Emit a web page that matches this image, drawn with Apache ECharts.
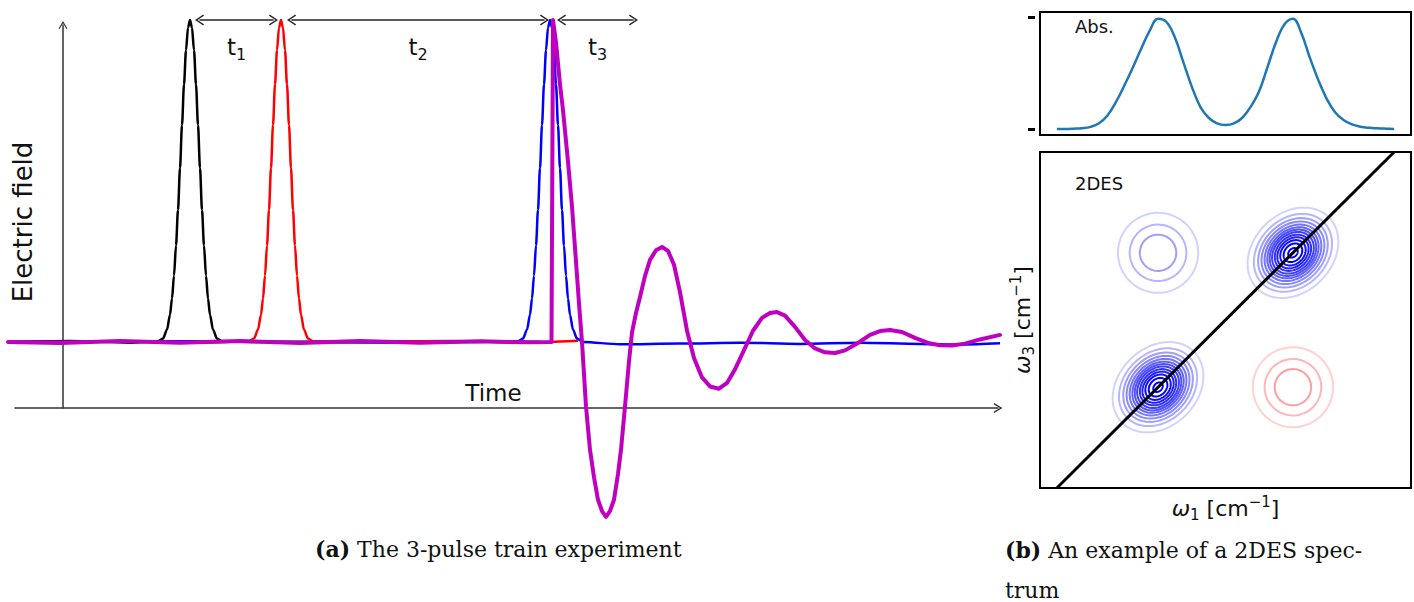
<!DOCTYPE html>
<html>
<head>
<meta charset="utf-8">
<script src="https://cdn.jsdelivr.net/npm/echarts@6/dist/echarts.min.js"></script>
<style>html,body{margin:0;padding:0;background:#fff}#c{width:1414px;height:602px}</style>
</head>
<body>
<div id="c"></div>
<script>
// ---------- (a) pulse train: [time, electric field] ----------
const pulseBlack = [[8,0],[70,0.003],[130,-0.002],[158,0.002],[163,0.011],[167,0.038],[170,0.085],[172,0.135],[174,0.206],[176,0.30],[178,0.41],[180,0.54],[182,0.674],[184,0.80],[186,0.906],[188,0.976],[190,1.0],[192,0.976],[194,0.906],[196,0.80],[198,0.674],[200,0.54],[202,0.41],[204,0.30],[206,0.206],[208,0.135],[210,0.085],[213,0.038],[217,0.011],[222,0.002],[260,0],[400,0.002],[540,0]];
const pulseRed = [[8,0],[100,0.002],[200,-0.002],[249,0.002],[254,0.011],[258,0.038],[261,0.085],[263,0.135],[265,0.206],[267,0.30],[269,0.41],[271,0.54],[273,0.674],[275,0.80],[277,0.906],[279,0.976],[281,1.0],[283,0.976],[285,0.906],[287,0.80],[289,0.674],[291,0.54],[293,0.41],[295,0.30],[297,0.206],[299,0.135],[301,0.085],[304,0.038],[308,0.011],[313,0.002],[350,0],[450,0.003],[520,-0.002],[578,0.004]];
const pulseBlue = [[8,0],[200,0.002],[400,-0.002],[518,0.002],[523,0.011],[527,0.038],[530,0.085],[532,0.135],[534,0.206],[536,0.30],[538,0.41],[540,0.54],[542,0.674],[544,0.80],[546,0.906],[548,0.976],[550,1.0],[552,0.976],[554,0.906],[556,0.80],[558,0.674],[560,0.54],[562,0.41],[564,0.30],[566,0.206],[568,0.135],[570,0.085],[573,0.038],[577,0.011],[583,0.0],[620,-0.007],[680,-0.005],[740,-0.002],[800,-0.006],[860,-0.002],[920,-0.006],[960,-0.008],[1000,-0.004]];
const signalField = [[8,0],[60,-0.003],[120,0.003],[180,-0.002],[240,0.003],[300,-0.003],[360,0.003],[420,-0.002],[480,0.002],[530,-0.001],[551.5,0],[553,1.0],[556,0.93],[560,0.8],[563,0.72],[568,0.56],[572,0.42],[576,0.25],[579,0.12],[582,0.0],[586,-0.2],[590,-0.335],[594,-0.42],[598,-0.49],[602,-0.525],[606,-0.543],[610,-0.525],[614,-0.49],[618,-0.41],[621,-0.335],[625,-0.2],[629,-0.06],[632,0.03],[636,0.09],[640,0.14],[645,0.205],[650,0.255],[656,0.285],[662,0.295],[668,0.283],[674,0.24],[680,0.155],[687,0.035],[694,-0.05],[702,-0.11],[710,-0.138],[719,-0.145],[727,-0.127],[735,-0.085],[744,-0.025],[753,0.035],[762,0.075],[770,0.09],[777,0.093],[785,0.082],[795,0.047],[805,0.006],[815,-0.02],[825,-0.032],[835,-0.034],[845,-0.026],[858,-0.003],[870,0.022],[880,0.034],[890,0.037],[902,0.031],[915,0.013],[928,-0.003],[940,-0.01],[952,-0.011],[965,-0.005],[980,0.008],[1000,0.022]];
// delay arrows between pulse peaks: [from, to, subscript]
const delayArrows = [[199.5,273.5,'1'],[291.5,544.5,'2'],[561.5,633.5,'3']];

// ---------- (b) absorption spectrum ----------
const absOmega = [0,0.25,0.5,0.75,1,1.25,1.5,1.75,2,2.25,2.5,2.75,3,3.25,3.5,3.75,4,4.25,4.5,4.75,5,5.25,5.5,5.75,6,6.25,6.5,6.75,7,7.25,7.5,7.75,8,8.25,8.5,8.75,9,9.25,9.5,9.75,10];
const absValues = [0,0,0.002,0.006,0.018,0.05,0.12,0.24,0.39,0.55,0.72,0.88,0.99,0.96,0.82,0.6,0.38,0.2,0.1,0.05,0.035,0.05,0.1,0.2,0.34,0.56,0.78,0.94,0.99,0.86,0.64,0.44,0.27,0.15,0.08,0.04,0.02,0.01,0.005,0.002,0];
const absTicks = [0, 1];

// ---------- (b) 2DES contours ----------
const diagPeaks = [[3,3],[7,7]];
const diagRingMajor = [1.50,1.29,1.15,1.04,0.94,0.85,0.77,0.69,0.60,0.52,0.42,0.31,0.16];
const diagRingMinor = [1.17,1.01,0.90,0.81,0.73,0.66,0.60,0.54,0.47,0.40,0.33,0.24,0.12];
const diagLevels = [-0.075,-0.15,-0.225,-0.3,-0.375,-0.45,-0.525,-0.6,-0.675,-0.75,-0.825,-0.9,-0.975];
const crossPeaks = [[3,7],[7,3]];
const crossSign = [-1, 1];
const crossRingRadius = [1.19,0.84,0.54];
const crossLevels = [0.075,0.15,0.225];
const diagonal = [[0,0],[10,10]];

// contour items [w1, w3, major, minor, level]
const contourItems = [];
diagPeaks.forEach(p => diagRingMajor.forEach((a, i) => contourItems.push([p[0], p[1], a, diagRingMinor[i], diagLevels[i]])));
crossPeaks.forEach((p, j) => crossRingRadius.forEach((r, i) => contourItems.push([p[0], p[1], r, r, crossSign[j]*crossLevels[i]])));

function ringColor(l) {
  const f = Math.pow(Math.min(1, Math.abs(l) / 0.9), 0.7);
  const w = Math.round(255 * (1 - f));
  return l < 0 ? 'rgb(' + w + ',' + w + ',255)' : 'rgb(255,' + w + ',' + w + ')';
}

const chevron = 'path://M0,10 L6,0 L12,10 L10.6,10.8 L6,3 L1.4,10.8 Z';
const handFont = 'DejaVu Sans';
const hidden = {axisLine:{show:false, onZero:false}, axisTick:{show:false}, axisLabel:{show:false}, splitLine:{show:false}};
const omegaRich = {
  w:{fontFamily:'DejaVu Sans', fontSize:22, fontStyle:'italic', color:'#111', lineHeight:28},
  n:{fontFamily:'DejaVu Sans', fontSize:22, color:'#111', lineHeight:28},
  s:{fontFamily:'DejaVu Sans', fontSize:15, color:'#111', lineHeight:28, verticalAlign:'bottom'},
  p:{fontFamily:'DejaVu Sans', fontSize:15, color:'#111', lineHeight:28, verticalAlign:'top'}
};
const gridBase = {outerBoundsMode:'none', containLabel:false};

const chart = echarts.init(document.getElementById('c'), null, {renderer:'svg'});
chart.setOption({
  animation: false,
  backgroundColor: '#fff',
  title: [
    {text:'{b|(a)} The 3-pulse train experiment', left:315, top:538, padding:0,
     textStyle:{fontFamily:'DejaVu Serif', fontSize:22, fontWeight:'normal', color:'#111',
       rich:{b:{fontFamily:'DejaVu Serif', fontSize:22, fontWeight:'bold', color:'#111'}}}},
    {text:'{b|(b)} An example of a 2DES spec-\ntrum', left:1005, top:530, padding:0,
     textStyle:{fontFamily:'DejaVu Serif', fontSize:22, fontWeight:'normal', color:'#111', lineHeight:40,
       rich:{b:{fontFamily:'DejaVu Serif', fontSize:22, fontWeight:'bold', color:'#111', lineHeight:40}}}},
    {text:'Abs.', left:1075, top:17, padding:0, textStyle:{fontFamily:handFont, fontSize:18, fontWeight:'normal', color:'#111'}},
    {text:'2DES', left:1075, top:174, padding:0, textStyle:{fontFamily:handFont, fontSize:18, fontWeight:'normal', color:'#111'}}
  ],
  grid: [
    Object.assign({left:15, top:25, width:983, height:383}, gridBase),
    Object.assign({left:0, top:20, width:1000, height:515.2}, gridBase),
    Object.assign({left:1040, top:12, width:371, height:123, show:true, borderColor:'#000', borderWidth:2, backgroundColor:'transparent'}, gridBase),
    Object.assign({left:1040, top:152, width:371, height:336, show:true, borderColor:'#000', borderWidth:2, backgroundColor:'transparent'}, gridBase)
  ],
  xAxis: [
    {gridIndex:0, type:'value', min:-48, max:935,
     axisLine:{show:true, onZero:true, symbol:['none', chevron], symbolSize:[12,9], lineStyle:{color:'#333', width:1.5}},
     axisTick:{show:false}, axisLabel:{show:false}, splitLine:{show:false},
     name:'Time', nameLocation:'middle', nameGap:-27,
     nameTextStyle:{fontFamily:handFont, fontSize:23, color:'#111', padding:[0,26,0,0]}},
    Object.assign({gridIndex:1, type:'value', min:0, max:1000}, hidden),
    Object.assign({gridIndex:2, type:'value', min:-0.5, max:10.5}, hidden),
    Object.assign({gridIndex:3, type:'value', min:-0.5, max:10.5,
     name:'{w|ω}{s|1}{n| [cm}{p|−1}{n|]}', nameLocation:'middle', nameGap:6,
     nameTextStyle:{fontFamily:'DejaVu Sans', fontSize:22, color:'#111', rich:omegaRich}}, hidden)
  ],
  yAxis: [
    {gridIndex:0, type:'value', min:0, max:1,
     axisLine:{show:true, onZero:true, symbol:['none', chevron], symbolSize:[10,8], lineStyle:{color:'#333', width:1.5}},
     axisTick:{show:false}, axisLabel:{show:false}, splitLine:{show:false},
     name:'Electric field', nameLocation:'middle', nameGap:-21, nameRotate:90,
     nameTextStyle:{fontFamily:handFont, fontSize:26, color:'#111', padding:[0,11,0,0]}},
    Object.assign({gridIndex:1, type:'value', min:-0.6, max:1}, hidden),
    {gridIndex:2, type:'value', min:-0.055, max:1.05, offset:5, position:'left',
     axisLine:{show:false, onZero:false}, axisLabel:{show:false}, splitLine:{show:false},
     axisTick:{show:true, customValues:absTicks, length:7, lineStyle:{color:'#000', width:3}}},
    Object.assign({gridIndex:3, type:'value', min:0, max:10,
     name:'{w|ω}{s|3}{n| [cm}{p|−1}{n|]}', nameLocation:'middle', nameGap:4, nameRotate:90,
     nameTextStyle:{fontFamily:'DejaVu Sans', fontSize:22, color:'#111', rich:omegaRich}}, hidden)
  ],
  series: [
    {type:'line', xAxisIndex:1, yAxisIndex:1, data:pulseBlack, showSymbol:false, symbol:'none', smooth:0.3, smoothMonotone:'x', clip:false,
     lineStyle:{color:'#000', width:2.5}},
    {type:'line', xAxisIndex:1, yAxisIndex:1, data:pulseRed, showSymbol:false, symbol:'none', smooth:0.3, smoothMonotone:'x', clip:false,
     lineStyle:{color:'#ff0000', width:2.5}},
    {type:'line', xAxisIndex:1, yAxisIndex:1, data:pulseBlue, showSymbol:false, symbol:'none', smooth:0.3, smoothMonotone:'x', clip:false,
     lineStyle:{color:'#0000ff', width:2.5}},
    {type:'line', xAxisIndex:1, yAxisIndex:1, data:signalField, showSymbol:false, symbol:'none', smooth:false, clip:false,
     lineStyle:{color:'#bf00bf', width:4, join:'round', cap:'round'},
     markLine:{silent:true, symbol:[chevron, chevron], symbolSize:[11,9],
       lineStyle:{color:'#222', width:1.6, type:'solid'},
       label:{show:true, position:'insideMiddleBottom', distance:12, color:'#111',
         formatter: p => '{t|t}{s|' + p.name + '}',
         rich:{t:{fontFamily:handFont, fontSize:23, color:'#111', lineHeight:30},
               s:{fontFamily:handFont, fontSize:16, color:'#111', lineHeight:30, verticalAlign:'bottom'}}},
       data: delayArrows.map(a => [{coord:[a[0],1.0], name:a[2]}, {coord:[a[1],1.0]}])}},
    {type:'line', xAxisIndex:2, yAxisIndex:2, data:absOmega.map((w,i)=>[w, absValues[i]]), showSymbol:false, symbol:'none', smooth:0.4,
     lineStyle:{color:'#1f77b4', width:2.5}},
    {type:'custom', xAxisIndex:3, yAxisIndex:3, data:contourItems, encode:{x:0, y:1},
     renderItem: function (params, api) {
       const a = api.value(2), b = api.value(3), lvl = api.value(4);
       const c = api.coord([api.value(0), api.value(1)]);
       const s = api.size([1, 1]);
       const pts = [];
       for (let i = 0; i < 90; i++) {
         const t = i / 90 * 2 * Math.PI;
         const u = a * Math.cos(t), v = b * Math.sin(t);
         const dx = (u - v) * Math.SQRT1_2, dy = (u + v) * Math.SQRT1_2;
         pts.push([c[0] + dx * s[0], c[1] - dy * s[1]]);
       }
       return {type:'polygon', shape:{points:pts}, style:{fill:'none', stroke:ringColor(lvl), lineWidth:2}};
     }},
    {type:'line', xAxisIndex:3, yAxisIndex:3, data:diagonal, showSymbol:false, symbol:'none',
     lineStyle:{color:'#000', width:3}, z:5}
  ]
});
</script>
</body>
</html>
